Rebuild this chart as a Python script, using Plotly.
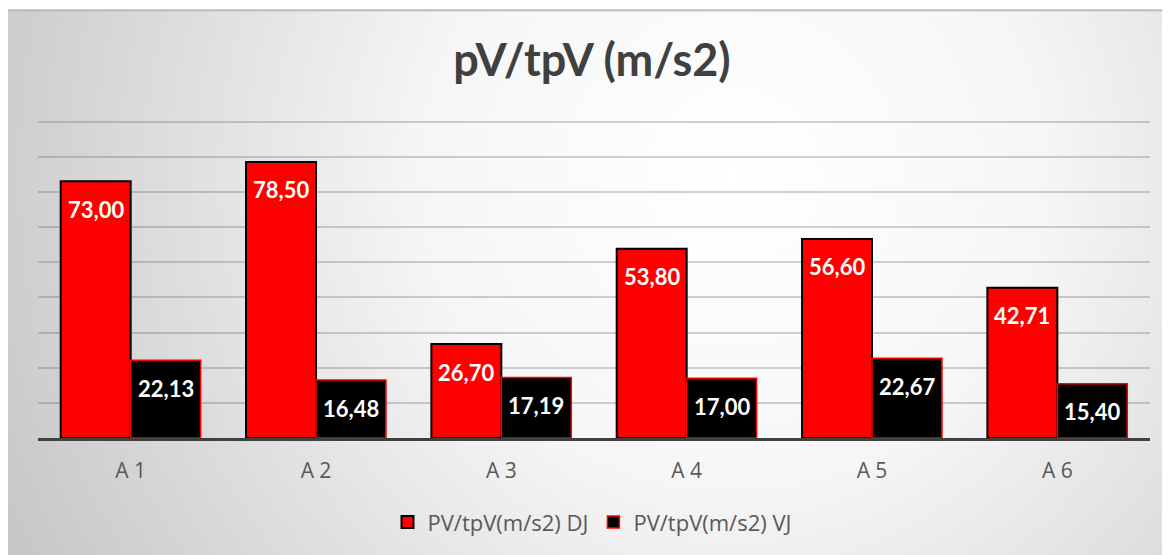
import base64
import plotly.graph_objects as go

categories = ["A 1", "A 2", "A 3", "A 4", "A 5", "A 6"]
dj_values = [73.00, 78.50, 26.70, 53.80, 56.60, 42.71]
vj_values = [22.13, 16.48, 17.19, 17.00, 22.67, 15.40]
series_names = ["PV/tpV(m/s2) DJ", "PV/tpV(m/s2) VJ"]
title_text = "pV/tpV (m/s2)"

W, H = 1170, 555
YMAX = 91
BASE_Y = 430
TOP90_Y = 114
ML, MR, MB = 30, 28, H - BASE_Y
PH = (BASE_Y - TOP90_Y) * YMAX / 90
MT = BASE_Y - PH
PW = W - ML - MR

def fmt(v):
    return f"{v:.2f}".replace(".", ",")

fig = go.Figure()
fig.add_trace(go.Bar(
    x=categories, y=dj_values, name=series_names[0],
    marker=dict(color="#ff0000", line=dict(color="#000000", width=2)),
    hoverinfo="x+y",
))
fig.add_trace(go.Bar(
    x=categories, y=vj_values, name=series_names[1],
    marker=dict(color="#000000", line=dict(color="#ff0000", width=1.5)),
    hoverinfo="x+y",
))

# value labels inside bars near top
bargap = 0.245
cat_w = PW / len(categories)
bar_w = cat_w * (1 - bargap) / 2
for vals, sh in ((dj_values, -bar_w / 2), (vj_values, bar_w / 2)):
    for c, v in zip(categories, vals):
        fig.add_annotation(
            x=c, y=v, xref="x", yref="y", text=fmt(v), showarrow=False,
            xshift=sh, yshift=-28, yanchor="middle", xanchor="center",
            font=dict(family="Lato", size=22, color="white", weight="bold"),
        )

BGW, BGH = W, H - 2
svg = f'''<svg xmlns="http://www.w3.org/2000/svg" width="{BGW}" height="{BGH}" viewBox="0 0 {BGW} {BGH}" preserveAspectRatio="none">
<defs><radialGradient id="g" cx="0.62" cy="0.3" r="0.75" gradientUnits="objectBoundingBox" gradientTransform="translate(0.62 0.3) scale(1 2.13) translate(-0.62 -0.3)">
<stop offset="0" stop-color="#ffffff"/><stop offset="0.35" stop-color="#f6f6f6"/><stop offset="1" stop-color="#c0c0c0"/></radialGradient></defs>
<rect x="0" y="0" width="{BGW}" height="{BGH}" fill="url(#g)"/>
<line x1="0" y1="1" x2="{BGW}" y2="1" stroke="#b8b8b8" stroke-width="2"/>
</svg>'''
src = "data:image/svg+xml;base64," + base64.b64encode(svg.encode()).decode()
fig.add_layout_image(dict(
    source=src, xref="paper", yref="paper", x=-ML / PW, y=(BASE_Y - 2) / PH,
    sizex=BGW / PW, sizey=BGH / PH, sizing="stretch",
    xanchor="left", yanchor="top", layer="below",
))

fig.update_layout(
    width=W, height=H,
    margin=dict(l=ML, r=MR, t=MT, b=MB),
    paper_bgcolor="white", plot_bgcolor="rgba(0,0,0,0)",
    barmode="group", bargap=bargap, bargroupgap=0,
    title=dict(text=title_text, x=584 / W, xanchor="center", xref="container",
               y=1 - 52 / H, yanchor="middle", yref="container",
               font=dict(family="Lato", size=45, color="#404040", weight="bold")),
    legend=dict(orientation="h", x=(584 - ML) / PW, xanchor="center",
                y=(BASE_Y - 514) / PH, yanchor="middle",
                font=dict(family="Open Sans", size=22, color="#595959"),
                bgcolor="rgba(0,0,0,0)", itemwidth=30, traceorder="normal"),
    showlegend=True,
    font=dict(family="Open Sans"),
)
fig.update_xaxes(
    showline=True, linecolor="#404040", linewidth=3,
    showgrid=False, ticks="", ticklabelstandoff=12,
    tickfont=dict(family="Open Sans", size=21, color="#595959"),
)
fig.update_yaxes(
    range=[0, YMAX], dtick=10, showticklabels=False, showgrid=True,
    gridcolor="rgba(90,90,90,0.28)", gridwidth=1.5, zeroline=False,
)
fig.write_html("out.html")
